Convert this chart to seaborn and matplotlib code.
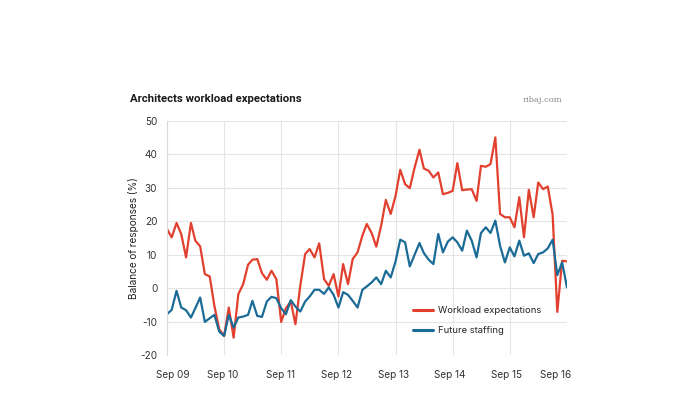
import numpy as np
import pandas as pd
import matplotlib
matplotlib.use("Agg")
import matplotlib.pyplot as plt
import matplotlib.transforms as mtransforms
import seaborn as sns

# ---- data ----
months = pd.date_range("2009-09-01", "2016-09-01", freq="MS")

workload = [17.7, 15.2, 19.5, 16.2, 9.2, 19.5, 14.2, 12.5, 4.2, 3.5,
            -5.3, -12.3, -14.3, -5.8, -14.8, -1.8, 1.2, 7.0, 8.5, 8.7,
            4.5, 2.5, 5.2, 2.7, -10.1, -6.0, -4.0, -10.8, 0.7, 10.2,
            11.7, 9.2, 13.4, 2.7, 0.7, 4.2, -2.5, 7.2, 1.2, 8.7,
            10.7, 15.7, 19.2, 16.5, 12.4, 18.7, 26.4, 22.2, 27.6, 35.4,
            31.1, 29.9, 36.1, 41.4, 35.8, 35.1, 33.1, 34.6, 28.1, 28.5,
            29.1, 37.4, 29.3, 29.5, 29.6, 26.1, 36.6, 36.3, 37.1, 45.1,
            22.2, 21.2, 21.2, 18.2, 27.2, 15.2, 29.4, 21.2, 31.6, 29.6,
            30.4, 22.0, -7.1, 8.2, 8.0]

staffing = [-7.8, -6.5, -0.8, -5.8, -6.6, -8.8, -6.0, -2.8, -10.1, -9.0,
            -8.0, -13.0, -14.3, -8.0, -11.8, -8.8, -8.5, -8.0, -3.8, -8.3,
            -8.6, -4.0, -2.6, -3.0, -6.0, -7.8, -3.6, -5.5, -7.0, -4.0,
            -2.5, -0.5, -0.5, -1.7, 0.2, -2.0, -5.8, -1.2, -2.0, -3.8,
            -5.8, -0.5, 0.5, 1.7, 3.2, 1.2, 5.2, 3.2, 8.0, 14.5,
            13.7, 6.5, 10.0, 13.5, 10.5, 8.5, 7.2, 16.2, 10.7, 13.9,
            15.2, 13.7, 11.2, 17.2, 14.2, 9.2, 16.5, 18.2, 16.5, 20.2,
            12.7, 7.7, 12.2, 9.5, 14.2, 9.7, 10.4, 7.5, 10.2, 10.7,
            11.9, 14.5, 3.9, 7.7, 0.2]

series_names = ["Workload expectations", "Future staffing"]
series_colors = ["#e2402e", "#1b6b97"]
tick_dates = pd.date_range("2009-09-01", "2016-09-01", freq="12MS")
tick_labels = ["Sep 09", "Sep 10", "Sep 11", "Sep 12", "Sep 13", "Sep 14", "Sep 15", "Sep 16"]
y_ticks = [-20, -10, 0, 10, 20, 30, 40, 50]

title = "Architects workload expectations"
source = "ribaj.com"
y_label = "Balance of responses (%)"

df = pd.DataFrame({
    "date": np.concatenate([months, months]),
    "value": workload + staffing,
    "series": [series_names[0]] * len(months) + [series_names[1]] * len(months),
})

# ---- style ----
sns.set_theme(style="white")
plt.rcParams["font.family"] = ["Inter", "DejaVu Sans"]
plt.rcParams["axes.unicode_minus"] = False

fig = plt.figure(figsize=(7.0, 3.94), dpi=100)
ax = fig.add_axes([167 / 700, 1 - 355 / 394, 400 / 700, 234 / 394])

sns.lineplot(data=df, x="date", y="value", hue="series",
             hue_order=series_names, palette=series_colors,
             linewidth=1.6, ax=ax, legend=False,
             solid_joinstyle="round", solid_capstyle="round")

ax.set_xlim(months[0], months[-1])
ax.set_ylim(-20, 50)
ax.set_yticks(y_ticks)
ax.set_yticklabels([str(v) for v in y_ticks])
ax.set_xticks(tick_dates)
ax.set_xticklabels(tick_labels)

ax.grid(True, color="#e4e4e4", linewidth=0.8)
ax.set_axisbelow(True)
for side in ["top", "right", "bottom"]:
    ax.spines[side].set_visible(False)
ax.spines["left"].set_color("#dadada")
ax.spines["left"].set_linewidth(0.8)

ax.tick_params(axis="both", length=0, labelsize=7.2, colors="#333333")
ax.tick_params(axis="x", pad=11)
ax.tick_params(axis="y", pad=7)

# nudge x tick labels like the reference
offsets_px = [6, -1, -1, -2, -2, -3, -3, -11]
for lab, dx in zip(ax.get_xticklabels(), offsets_px):
    lab.set_transform(lab.get_transform() +
                      mtransforms.ScaledTranslation(dx / 100, 0, fig.dpi_scale_trans))

ax.set_xlabel("")
ax.set_ylabel(y_label, fontsize=7.2, color="#222222", labelpad=1)

fig.text(130 / 700, 1 - 99 / 394, title, fontsize=8.2, fontweight="bold",
         color="#1a1a1a", ha="left", va="center", family=["Roboto", "DejaVu Sans"])
fig.text(562 / 700, 1 - 100 / 394, source, fontsize=6.0, color="#8a8a8a",
         ha="right", va="center", family="DejaVu Serif")

handles = [plt.Line2D([], [], color=c, linewidth=2.2) for c in series_colors]
leg = fig.legend(handles, series_names, loc="center left",
                 bbox_to_anchor=(413 / 700, 1 - 320.5 / 394),
                 frameon=False, fontsize=6.8, handlelength=2.1,
                 handletextpad=0.55, labelspacing=1.2, borderpad=0,
                 borderaxespad=0)
for t in leg.get_texts():
    t.set_color("#222222")

fig.savefig("out.png", dpi=100, facecolor="white")
